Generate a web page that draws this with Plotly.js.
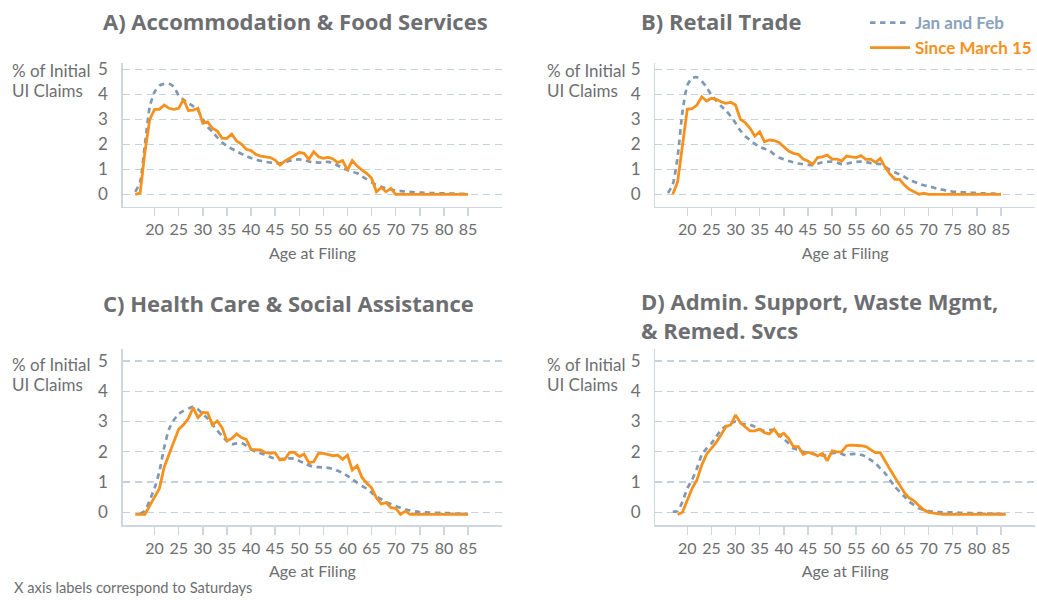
<!DOCTYPE html>
<html>
<head>
<meta charset="utf-8">
<script src="https://cdn.plot.ly/plotly-3.0.1.min.js"></script>
<style>html,body{margin:0;padding:0;background:#fff;}#chart{width:1037px;height:600px;}</style>
</head>
<body>
<div id="chart"></div>
<script>
// ---------- DATA ----------
const ages = [16,17,18,19,20,21,22,23,24,25,26,27,28,29,30,31,32,33,34,35,36,37,38,39,40,
  41,42,43,44,45,46,47,48,49,50,51,52,53,54,55,56,57,58,59,60,61,62,63,64,65,66,67,68,69,70,
  71,72,73,74,75,76,77,78,79,80,81,82,83,84,85,86];
const tickAges = [20,25,30,35,40,45,50,55,60,65,70,75,80,85];
const tickLabels = ["20","25","30","35","40","45","50","55","60","65","70","75","80","85"];
const yTicks = [0,1,2,3,4,5];

const panelTitles = [
  "A) Accommodation & Food Services",
  "B) Retail Trade",
  "C) Health Care & Social Assistance",
  "D) Admin. Support, Waste Mgmt,<br>& Remed. Svcs"
];
const seriesNames = ["Jan and Feb", "Since March 15"];

// Panel A
const accomJanFeb = [0.1,0.5,2.0,3.5,4.1,4.35,4.42,4.42,4.3,3.95,
  3.78,3.65,3.52,3.35,3.0,2.7,2.5,2.28,2.07,1.93,
  1.82,1.72,1.62,1.53,1.45,1.38,1.34,1.3,1.27,1.25,
  1.24,1.28,1.34,1.38,1.4,1.36,1.31,1.28,1.27,1.28,
  1.3,1.25,1.15,1.05,0.97,0.9,0.84,0.72,0.6,0.48,
  0.37,0.3,0.24,0.2,0.15,0.13,0.11,0.1,0.08,0.07,
  0.06,0.05,0.05,0.04,0.04,0.03,0.03,0.02,0.02,0.02,
  null];
const accomSinceMar = [0.0,0.05,1.7,3.0,3.4,3.4,3.57,3.44,3.4,3.44,
  3.8,3.35,3.37,3.44,2.84,2.9,2.64,2.53,2.24,2.24,
  2.41,2.13,2.01,1.8,1.75,1.6,1.53,1.5,1.47,1.37,
  1.17,1.33,1.44,1.57,1.67,1.64,1.4,1.7,1.5,1.44,
  1.48,1.41,1.27,1.35,0.97,1.35,1.13,0.97,0.84,0.64,
  0.1,0.27,0.1,0.24,0.0,0,0,0,0,0,
  0,0,0,0,0,0,0,0,0,0,
  null];

// Panel B
const retailJanFeb = [0.05,0.4,1.5,3.3,4.35,4.65,4.68,4.52,4.28,3.97,
  3.75,3.53,3.35,3.12,2.85,2.55,2.32,2.17,2.02,1.9,
  1.82,1.75,1.6,1.47,1.4,1.33,1.28,1.23,1.2,1.18,
  1.17,1.22,1.28,1.3,1.31,1.27,1.21,1.23,1.27,1.3,
  1.31,1.29,1.25,1.22,1.21,1.1,0.97,0.88,0.8,0.7,
  0.58,0.5,0.42,0.36,0.32,0.27,0.22,0.18,0.14,0.11,
  0.09,0.08,0.07,0.06,0.05,0.04,0.03,0.03,0.02,0.02,
  null];
const retailSinceMar = [null,0.0,0.5,1.95,3.4,3.43,3.57,3.9,3.73,3.84,
  3.8,3.7,3.64,3.68,3.57,3.0,2.87,2.64,2.33,2.5,
  2.1,2.17,2.15,2.07,1.88,1.73,1.64,1.6,1.41,1.33,
  1.2,1.47,1.5,1.57,1.41,1.41,1.33,1.53,1.5,1.47,
  1.55,1.4,1.41,1.28,1.44,1.08,0.81,0.6,0.6,0.37,
  0.2,0.1,0.0,0.04,0.0,0,0,0,0,0,
  0,0,0,0,0,0,0,0,0,0,
  null];

// Panel C
const healthJanFeb = [null,-0.05,0.05,0.4,0.8,1.35,2.15,2.75,3.05,3.25,
  3.35,3.43,3.49,3.4,3.25,3.1,2.9,2.7,2.52,2.35,
  2.25,2.28,2.29,2.2,2.08,2.0,1.95,1.9,1.83,1.77,
  1.76,1.78,1.78,1.77,1.7,1.62,1.55,1.51,1.49,1.48,
  1.47,1.43,1.37,1.3,1.2,1.09,0.98,0.87,0.78,0.65,
  0.53,0.43,0.34,0.27,0.21,0.15,0.1,0.06,0.03,0.01,
  0.0,-0.01,-0.02,-0.02,-0.03,-0.03,-0.04,-0.04,-0.05,-0.05,
  null];
const healthSinceMar = [-0.07,-0.07,-0.07,0.22,0.5,0.79,1.5,1.9,2.33,2.75,
  2.89,3.1,3.46,3.13,3.3,3.29,2.89,3.02,2.8,2.36,
  2.44,2.59,2.47,2.41,2.08,2.06,2.06,1.97,1.95,1.97,
  1.73,1.75,1.98,1.98,1.84,1.92,1.64,1.67,1.95,1.95,
  1.92,1.87,1.89,1.75,1.89,1.4,1.54,1.15,0.96,0.81,
  0.48,0.28,0.32,0.15,0.13,-0.07,0.04,-0.07,-0.07,-0.07,
  -0.07,-0.07,-0.07,-0.07,-0.07,-0.07,-0.07,-0.07,-0.07,-0.07,
  null];

// Panel D
const adminJanFeb = [null,0.02,0.04,0.35,0.79,1.07,1.45,1.9,2.11,2.28,
  2.5,2.72,2.85,2.94,3.0,2.94,2.91,2.89,2.83,2.75,
  2.69,2.72,2.72,2.56,2.42,2.28,2.11,2.06,2.0,1.97,
  1.93,1.89,1.88,1.9,1.95,1.97,1.93,1.88,1.92,1.93,
  1.9,1.84,1.73,1.62,1.45,1.29,1.07,0.85,0.68,0.52,
  0.35,0.24,0.13,0.08,0.04,0.02,0.01,0.0,0.0,-0.01,
  -0.01,-0.02,-0.02,-0.03,-0.03,-0.03,-0.04,-0.04,-0.04,-0.05,
  -0.05];
const adminSinceMar = [null,null,-0.07,0.0,0.4,0.79,1.07,1.56,1.92,2.11,
  2.31,2.56,2.83,2.89,3.22,2.96,2.83,2.69,2.69,2.75,
  2.63,2.59,2.75,2.52,2.61,2.44,2.17,2.17,1.92,1.98,
  1.95,1.86,1.95,1.7,2.03,2.0,2.0,2.2,2.22,2.22,
  2.2,2.17,2.08,1.97,1.97,1.68,1.42,1.16,0.9,0.65,
  0.47,0.38,0.22,0.08,0.0,-0.03,-0.05,-0.07,-0.07,-0.07,
  -0.07,-0.07,-0.07,-0.07,-0.07,-0.07,-0.07,-0.07,-0.07,-0.07,
  -0.07];

// ---------- STYLE ----------
const FONT = 'Lato, "Open Sans", "DejaVu Sans", sans-serif';
const TFONT = '"Open Sans", Lato, sans-serif';
const GRAY = '#6d6e71';
const ORANGE = '#f7911e';
const BLUE = '#7f99b4';
const AXIS = '#cdd6e1';
const GRID = '#c6d1de';

const W = 1037, H = 600;
const px = v => v / W;
const py = v => 1 - v / H;

const panels = [
  {jan: accomJanFeb, mar: accomSinceMar, xs: 'x', ys: 'y'},
  {jan: retailJanFeb, mar: retailSinceMar, xs: 'x2', ys: 'y2'},
  {jan: healthJanFeb, mar: healthSinceMar, xs: 'x3', ys: 'y3'},
  {jan: adminJanFeb, mar: adminSinceMar, xs: 'x4', ys: 'y4'}
];

const traces = [];
panels.forEach((p, i) => {
  traces.push({
    x: ages, y: p.jan, xaxis: p.xs, yaxis: p.ys, type: 'scatter', mode: 'lines',
    name: '<span style="color:#8aa2bb">' + seriesNames[0] + '</span>',
    legendgroup: 'jan', showlegend: i === 0, connectgaps: false,
    line: {color: BLUE, width: 2.7, dash: '5.5px,4.5px', shape: 'spline', smoothing: 0.6},
    hoverinfo: 'skip'
  });
  traces.push({
    x: ages, y: p.mar, xaxis: p.xs, yaxis: p.ys, type: 'scatter', mode: 'lines',
    name: '<span style="color:' + ORANGE + '">' + seriesNames[1] + '</span>',
    legendgroup: 'mar', showlegend: i === 0, connectgaps: false,
    line: {color: ORANGE, width: 2.8},
    hoverinfo: 'skip'
  });
});

// geometry (pixels)
const colX = [[123, 503], [656.7, 1037]];
const rowY = [[63.3, 206.7], [349.3, 525]];
const yRanges = [[-0.496, 5.24], [-0.42, 5.387]];

function xAxis(col, row, anchor) {
  return {
    domain: [px(colX[col][0]), px(colX[col][1])],
    anchor: anchor,
    range: [13.4, 92.05],
    tickmode: 'array', tickvals: tickAges, ticktext: tickLabels,
    showline: true, linecolor: AXIS, linewidth: 1.5,
    ticks: 'outside', ticklen: 8, tickwidth: 1.5, tickcolor: AXIS,
    showgrid: false, zeroline: false,
    tickfont: {family: FONT, size: 16, color: GRAY},
    title: {text: 'Age at Filing', font: {family: FONT, size: 16, color: GRAY}, standoff: 10},
    fixedrange: true
  };
}
function yAxis(col, row, anchor) {
  return {
    domain: [py(rowY[row][1]), py(rowY[row][0])],
    anchor: anchor,
    range: yRanges[row],
    tickmode: 'array', tickvals: yTicks, ticktext: yTicks.map(String),
    showline: true, linecolor: AXIS, linewidth: 1.5,
    ticks: '', ticklabelstandoff: 10,
    showgrid: true, gridcolor: GRID, gridwidth: 1.3, griddash: '7px,5px',
    zeroline: false,
    tickfont: {family: FONT, size: 17, color: GRAY},
    fixedrange: true
  };
}

const annotations = [];
const titlePos = [[101.5, 20.5], [640.5, 20.5], [101.5, 302.5], [640.5, 316]];
panelTitles.forEach((t, i) => {
  annotations.push({
    text: '<b>' + t + '</b>', xref: 'paper', yref: 'paper',
    x: px(titlePos[i][0]), y: py(titlePos[i][1]), xanchor: 'left', yanchor: 'middle', align: 'left',
    showarrow: false, font: {family: TFONT, size: 22, color: GRAY}
  });
});
const yTitlePos = [[10, 70.5], [546, 70.5], [10, 365], [546, 365]];
yTitlePos.forEach(p => {
  annotations.push({text: '% of Initial', xref: 'paper', yref: 'paper', x: px(p[0]), y: py(p[1]),
    xanchor: 'left', yanchor: 'middle', showarrow: false, font: {family: FONT, size: 17, color: GRAY}});
  annotations.push({text: 'UI Claims', xref: 'paper', yref: 'paper', x: px(p[0]), y: py(p[1] + 19.5),
    xanchor: 'left', yanchor: 'middle', showarrow: false, font: {family: FONT, size: 17, color: GRAY}});
});
annotations.push({
  text: 'X axis labels correspond to Saturdays', xref: 'paper', yref: 'paper',
  x: px(12), y: py(586.5), xanchor: 'left', yanchor: 'middle', showarrow: false,
  font: {family: FONT, size: 14.7, color: GRAY}
});

const layout = {
  width: W, height: H,
  margin: {l: 0, r: 0, t: 0, b: 0, pad: 0},
  paper_bgcolor: '#ffffff', plot_bgcolor: '#ffffff',
  font: {family: FONT, color: GRAY},
  showlegend: true,
  legend: {
    x: px(867), y: py(5), xanchor: 'left', yanchor: 'top',
    bgcolor: 'rgba(0,0,0,0)', borderwidth: 0,
    font: {family: FONT, size: 17, weight: 700},
    itemwidth: 40, tracegroupgap: 0, traceorder: 'normal'
  },
  xaxis: xAxis(0, 0, 'y'),
  yaxis: yAxis(0, 0, 'x'),
  xaxis2: xAxis(1, 0, 'y2'),
  yaxis2: yAxis(1, 0, 'x2'),
  xaxis3: xAxis(0, 1, 'y3'),
  yaxis3: yAxis(0, 1, 'x3'),
  xaxis4: xAxis(1, 1, 'y4'),
  yaxis4: yAxis(1, 1, 'x4'),
  annotations: annotations
};

Plotly.newPlot('chart', traces, layout, {displayModeBar: false, staticPlot: true});
</script>
</body>
</html>
